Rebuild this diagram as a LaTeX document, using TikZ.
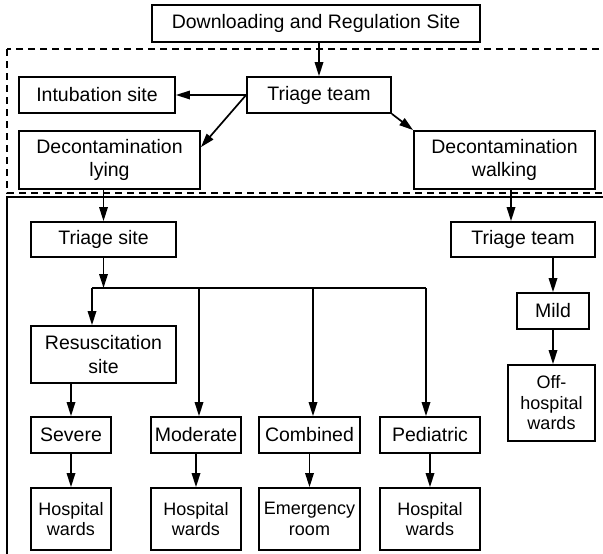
\documentclass[tikz,border=0pt]{standalone}
\usepackage{fontspec}
\setmainfont{Liberation Sans}
\usetikzlibrary{arrows.meta}
\tikzset{>={Triangle[length=14pt,width=8.5pt]}}
\tikzset{
  box/.style={draw,line width=1.8pt,align=center,inner sep=0pt,
    font=\fontsize{19.5}{23.5}\selectfont},
  smallbox/.style={box,font=\fontsize{18}{20.5}\selectfont},
  link/.style={line width=1.7pt,->},
}

\begin{document}
\begin{tikzpicture}[x=1pt,y=-1pt]
    \clip (0,0) rectangle (603,554);
    % the two areas
    \draw[line width=1.4pt,dash pattern=on 7pt off 5pt] (7,49) rectangle (615,193);
    \draw[line width=1.4pt] (7,197) rectangle (615,570);

    % upper area
    \node[box,minimum width=328pt,minimum height=37pt] (dl) at (316,23.5) {Downloading and Regulation Site};
    \node[box,minimum width=144pt,minimum height=36pt] (tt) at (319,95) {Triage team};
    \node[box,minimum width=156pt,minimum height=36pt] (ib) at (97,95) {Intubation site};
    \node[box,minimum width=181pt,minimum height=58pt] (dcl) at (109.5,160) {Decontamination\\lying};
    \node[box,minimum width=181pt,minimum height=58pt] (dcw) at (504.5,160) {Decontamination\\walking};

    % lower area
    \node[box,minimum width=145pt,minimum height=35pt] (ts) at (103.5,239.5) {Triage site};
    \node[box,minimum width=144pt,minimum height=35pt] (tw) at (523,239.5) {Triage team};
    \node[box,minimum width=145pt,minimum height=57pt] (rs) at (103.5,354.5) {Resuscitation\\site};
    \node[box,minimum width=72pt,minimum height=36pt] (mild) at (553,311) {Mild};
    \node[smallbox,minimum width=87pt,minimum height=76pt] (off) at (551.5,403) {Off-\\hospital\\wards};

    \node[box,minimum width=80pt,minimum height=36pt] (sev) at (71,435) {Severe};
    \node[box,minimum width=90pt,minimum height=36pt] (mod) at (196,435) {Moderate};
    \node[box,minimum width=101pt,minimum height=36pt] (comb) at (309.5,435) {Combined};
    \node[box,minimum width=100pt,minimum height=36pt] (ped) at (430,435) {Pediatric};

    \node[smallbox,minimum width=80pt,minimum height=62pt] (hw1) at (71,519) {Hospital\\wards};
    \node[smallbox,minimum width=90pt,minimum height=62pt] (hw2) at (196,519) {Hospital\\wards};
    \node[smallbox,minimum width=101pt,minimum height=62pt] (er) at (309.5,519) {Emergency\\room};
    \node[smallbox,minimum width=100pt,minimum height=62pt] (hw4) at (430,519) {Hospital\\wards};

    % branch points
    \coordinate (b0) at (92,288);
    \coordinate (b1) at (199,288);
    \coordinate (b2) at (313,288);
    \coordinate (b3) at (426,288);

    % connectors
    \draw[link] (tt.north |- dl.south) -- (tt.north);
    \draw[link] (tt.west) -- (ib.east);
    \draw[link] (tt.west) -- (dcl.8);
    \draw[link] (tt.south east) -- (dcw.north west);
    \draw[link] (ts.north |- dcl.south) -- (ts.north);
    \draw[link] ([xshift=6.5pt]dcw.south) -- ([xshift=6.5pt]dcw.south |- tw.north);

    \draw[line width=1.7pt] (b0) -- (b3);
    \draw[link] (ts.south) -- (ts.south |- b0);
    \draw[link] (b0) -- (b0 |- rs.north);
    \draw[link] (b1) -- (b1 |- mod.north);
    \draw[link] (b2) -- (b2 |- comb.north);
    \draw[link] (b3) -- (b3 |- ped.north);

    \draw[link] (sev.north |- rs.south) -- (sev.north);
    \draw[link] (sev) -- (hw1);
    \draw[link] (mod) -- (hw2);
    \draw[link] (comb) -- (er);
    \draw[link] (ped) -- (hw4);

    \draw[link] (mild.north |- tw.south) -- (mild.north);
    \draw[link] (mild.south) -- (mild.south |- off.north);
\end{tikzpicture}
\end{document}
